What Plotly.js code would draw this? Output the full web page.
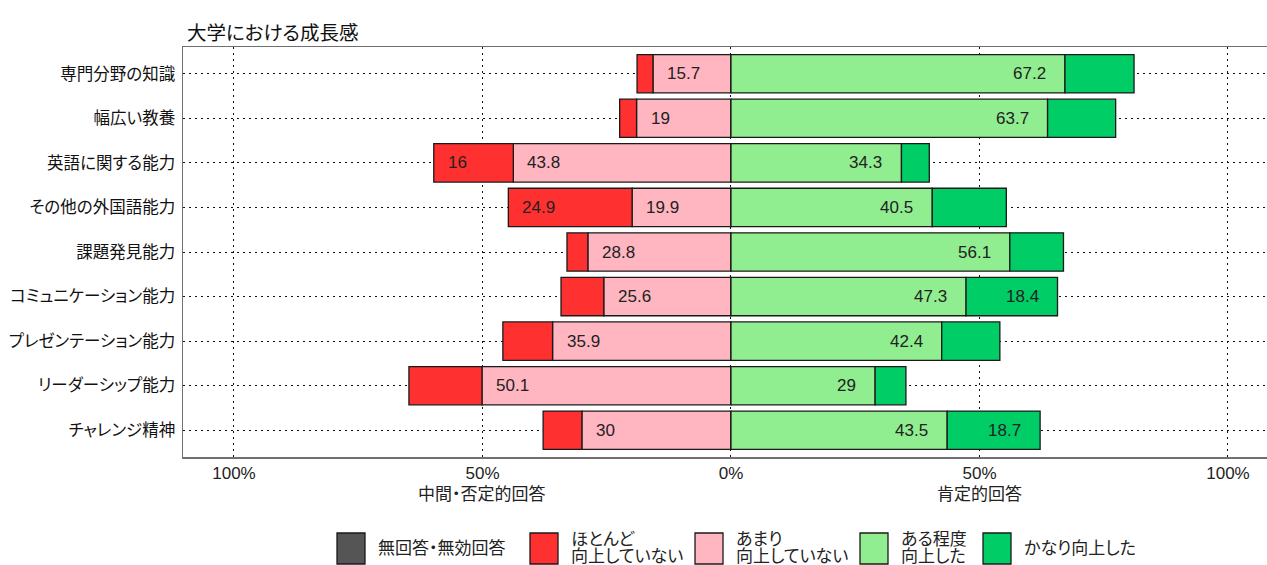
<!DOCTYPE html>
<html>
<head>
<meta charset="utf-8">
<script src="https://cdn.plot.ly/plotly-3.0.1.min.js"></script>
<style>
  html, body { margin: 0; padding: 0; background: #fff; }
  #chart { width: 1267px; height: 565px; }
  text { font-feature-settings: "palt" 1; }
</style>
</head>
<body>
<div id="chart"></div>
<script>
// ---- data (percent) ----
const categories = ['専門分野の知識','幅広い教養','英語に関する能力','その他の外国語能力','課題発見能力','コミュニケーション能力','プレゼンテーション能力','リーダーシップ能力','チャレンジ精神'];
const noAnswer         = [0, 0, 0, 0, 0, 0, 0, 0, 0];
const hardlyImproved   = [3.2, 3.4, 16, 24.9, 4.2, 8.6, 10, 14.7, 7.8];
const notMuchImproved  = [15.7, 19, 43.8, 19.9, 28.8, 25.6, 35.9, 50.1, 30];
const somewhatImproved = [67.2, 63.7, 34.3, 40.5, 56.1, 47.3, 42.4, 29, 43.5];
const greatlyImproved  = [13.9, 13.7, 5.6, 14.9, 10.8, 18.4, 11.7, 6.2, 18.7];
const seriesNames = ['無回答・無効回答', 'ほとんど<br>向上していない', 'あまり<br>向上していない', 'ある程度<br>向上した', 'かなり向上した'];
const tickVals = [-100, -50, 0, 50, 100];
const tickLabels = ['100%', '50%', '0%', '50%', '100%'];
const sideLabelVals = [-50, 50];
const sideLabels = ['中間・否定的回答', '肯定的回答'];
const chartTitle = '大学における成長感';
const labelThreshold = 15;

// ---- styles ----
const FONT = 'Liberation Sans, Arial, Noto Sans CJK JP, sans-serif';
const colors = ['#555555', '#FF3030', '#FFB6C1', '#90EE90', '#00CD66'];
const outline = { color: '#1a1a1a', width: 1.3 };
const W = 1267, H = 565;
const mL = 183, mR = 0, mT = 47, mB = 108;
const plotW = W - mL - mR, plotH = H - mT - mB;
const px2x = px => (px - mL) / plotW;
const px2y = py => (H - mB - py) / plotH;

function barTrace(vals, sign, idx) {
  return {
    type: 'bar', orientation: 'h',
    y: categories, x: vals.map(v => sign * v),
    width: 0.86,
    marker: { color: colors[idx], line: outline },
    name: seriesNames[idx], showlegend: false,
    hoverinfo: 'skip', cliponaxis: false
  };
}

// negative side: first trace sits next to zero
const traces = [
  barTrace(notMuchImproved, -1, 2),
  barTrace(hardlyImproved, -1, 1),
  barTrace(noAnswer, -1, 0),
  barTrace(somewhatImproved, 1, 3),
  barTrace(greatlyImproved, 1, 4)
];

// value labels, placed near the outer end of each segment
const annotations = [];
function addLabels(vals, base, sign) {
  vals.forEach((v, i) => {
    if (v < labelThreshold) return;
    const end = sign * (base[i] + v);
    annotations.push({
      x: end, y: categories[i], xref: 'x', yref: 'y',
      text: String(v), showarrow: false,
      xanchor: sign < 0 ? 'left' : 'right',
      xshift: sign < 0 ? 12 : -17,
      font: { family: FONT, size: 17, color: '#222' }
    });
  });
}
const zeros = categories.map(() => 0);
addLabels(notMuchImproved, zeros, -1);
addLabels(hardlyImproved, notMuchImproved, -1);
addLabels(somewhatImproved, zeros, 1);
addLabels(greatlyImproved, somewhatImproved, 1);

// second line under the 50% ticks
sideLabelVals.forEach((v, k) => {
  annotations.push({
    x: v, xref: 'x', yref: 'paper', y: px2y(494),
    xanchor: 'center', yanchor: 'middle',
    text: sideLabels[k], showarrow: false,
    font: { family: FONT, size: 17, color: '#222' }
  });
});

// manual legend (large square keys, as in the reference)
const keyLeft = [337, 530, 695, 860, 983];
const shapes = [];
seriesNames.forEach((nm, k) => {
  shapes.push({
    type: 'rect', xref: 'paper', yref: 'paper',
    x0: px2x(keyLeft[k]), x1: px2x(keyLeft[k] + 28),
    y0: px2y(533), y1: px2y(564),
    fillcolor: colors[k], line: { color: '#1a1a1a', width: 1.3 }
  });
  const lines = nm.split('<br>');
  const ys = lines.length === 1 ? [548] : [539, 556];
  lines.forEach((ln, j) => {
    annotations.push({
      xref: 'paper', yref: 'paper',
      x: px2x(keyLeft[k] + 39), y: px2y(ys[j]),
      xanchor: 'left', yanchor: 'middle', align: 'left',
      text: ln, showarrow: false,
      font: { family: FONT, size: 17, color: '#222' }
    });
  });
});

const gridStyle = { showgrid: true, gridcolor: '#111', gridwidth: 1, griddash: '1.6px,4.4px' };

const layout = {
  width: W, height: H,
  margin: { l: mL, r: mR, t: mT, b: mB, pad: 0 },
  paper_bgcolor: '#fff', plot_bgcolor: '#fff',
  barmode: 'relative',
  title: {
    text: chartTitle, x: 187 / W, xref: 'container', xanchor: 'left',
    y: 1 - 33 / H, yref: 'container', yanchor: 'middle',
    font: { family: FONT, size: 19.5, color: '#111' }
  },
  xaxis: Object.assign({
    range: [-110.26, 107.85], fixedrange: true,
    tickvals: tickVals, ticktext: tickLabels, ticks: '',
    tickfont: { family: FONT, size: 17, color: '#222' },
    showline: true, mirror: true, linecolor: '#707070', linewidth: 1.5,
    zeroline: false, automargin: false, ticklabelstandoff: 0
  }, gridStyle),
  yaxis: Object.assign({
    type: 'category', categoryorder: 'array', categoryarray: categories,
    range: [8.6, -0.6], fixedrange: true,
    ticks: '', ticklabelstandoff: 3,
    tickfont: { family: FONT, size: 16.5, color: '#111' },
    showline: true, mirror: false, linecolor: '#707070', linewidth: 1.5,
    zeroline: false, automargin: false
  }, gridStyle),
  annotations: annotations,
  shapes: shapes,
  showlegend: false
};

Plotly.newPlot('chart', traces, layout, { displayModeBar: false, staticPlot: true });
</script>
</body>
</html>
